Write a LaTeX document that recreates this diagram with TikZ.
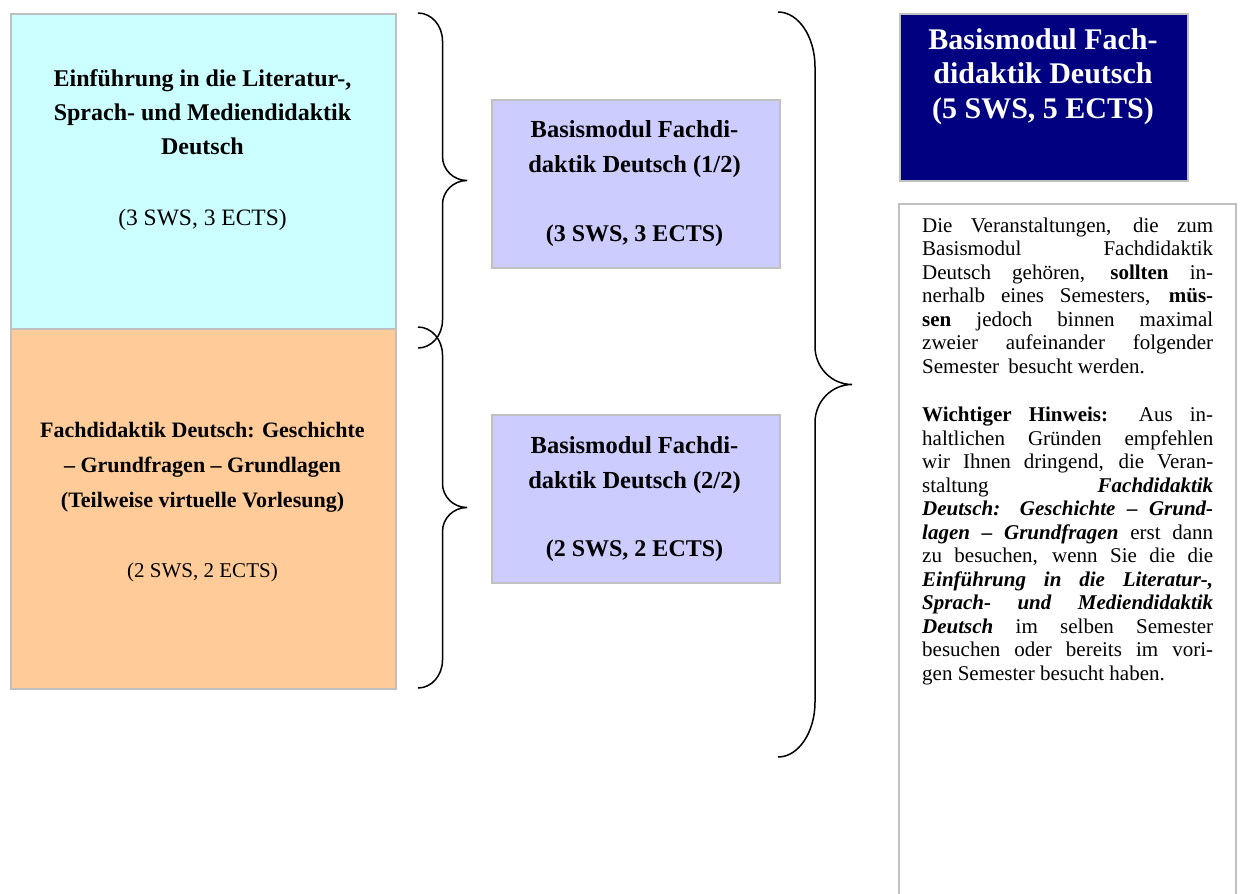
\documentclass[tikz,border=0pt]{standalone}
\usepackage{fontspec}
\setmainfont{Liberation Serif}
\definecolor{cyanfill}{HTML}{CCFFFF}
\definecolor{orangefill}{HTML}{FFCC99}
\definecolor{purplefill}{HTML}{CCCCFF}
\definecolor{navyfill}{HTML}{000080}
\definecolor{bordergray}{HTML}{C0C0C0}
\newcommand{\jl}[1]{\hbox to 291pt{\spaceskip=0.25em plus 1fil\relax #1}}
\newcommand{\lastln}[1]{\hbox to 291pt{#1\hfil}}
\newcommand{\mybrace}[6]{%
  \pgfmathsetmacro\bym{(#2+#3)/2}%
  \draw[bracestyle] (#1,#2) .. controls ({#1+0.552*#4},#2) and ({#1+#4},{#2+0.448*#5}) .. ({#1+#4},{#2+#5})
   -- ({#1+#4},{\bym-#6}) .. controls ({#1+#4},{\bym-0.448*#6}) and ({#1+1.448*#4},\bym) .. ({#1+2*#4},\bym)
   .. controls ({#1+1.448*#4},\bym) and ({#1+#4},{\bym+0.448*#6}) .. ({#1+#4},{\bym+#6})
   -- ({#1+#4},{#3-#5}) .. controls ({#1+#4},{#3-0.448*#5}) and ({#1+0.552*#4},#3) .. (#1,#3);%
}
\begin{document}
\begin{tikzpicture}[x=1pt,y=-1pt,
  box/.style={draw=bordergray, line width=2pt, inner sep=0pt, anchor=north west},
  bracestyle/.style={line width=1.5pt, black},
  frame/.style={draw=bordergray, line width=2pt},
  titletext/.style={anchor=base, align=center, inner sep=0pt},
  swstext/.style={anchor=base, inner sep=0pt}]
\useasboundingbox (0,0) rectangle (1242,894);

% boxes
\node[box, fill=cyanfill, minimum width=384.2pt, minimum height=315.5pt] (einf) at (10.3,12.5) {};
\node[box, fill=orangefill, minimum width=384.2pt, minimum height=360pt] (fach) at (10.3,328) {};
\node[box, fill=purplefill, minimum width=288.2pt, minimum height=168pt] (basis1) at (490.8,98.5) {};
\node[box, fill=purplefill, minimum width=288.2pt, minimum height=168.5pt] (basis2) at (490.8,413.5) {};
\node[box, fill=navyfill, minimum width=288pt, minimum height=167.3pt] (basis) at (899,12.7) {};
\draw[frame] (899,896) |- (1236,204) -- (1236,896);

% texts (base anchor = baseline of last line)
\node[titletext, font=\bfseries\fontsize{24}{34}\selectfont] (einft) at (202.5,154)
  {Einführung in die Literatur-,\\Sprach- und Mediendidaktik\\Deutsch};
\node[swstext, font=\fontsize{23.5}{26}\selectfont] (einfs) at (202.5,225) {(3 SWS, 3 ECTS)};

\node[titletext, font=\bfseries\fontsize{22}{35}\selectfont] (facht) at (202.5,507)
  {Fachdidaktik Deutsch: Geschichte\\– Grundfragen – Grundlagen\\(Teilweise virtuelle Vorlesung)};
\node[swstext, font=\fontsize{21}{26}\selectfont] (fachs) at (202.5,577) {(2 SWS, 2 ECTS)};

\node[titletext, font=\bfseries\fontsize{24.5}{35}\selectfont] (basis1t) at (634.5,172)
  {Basismodul Fachdi-\\daktik Deutsch (1/2)};
\node[swstext, font=\bfseries\fontsize{24}{26}\selectfont] (basis1s) at (634.5,241) {(3 SWS, 3 ECTS)};

\node[titletext, font=\bfseries\fontsize{24.5}{35}\selectfont] (basis2t) at (634.5,488)
  {Basismodul Fachdi-\\daktik Deutsch (2/2)};
\node[swstext, font=\bfseries\fontsize{24}{26}\selectfont] (basis2s) at (634.5,556) {(2 SWS, 2 ECTS)};

\node[titletext, text=white, font=\bfseries\fontsize{30}{34.5}\selectfont] (basist) at (1043,118)
  {Basismodul Fach-\\didaktik Deutsch\\(5 SWS, 5 ECTS)};

\node[anchor=base west, inner sep=0pt, font=\fontsize{21}{23.5}\selectfont] (hinweis) at (922,232) {\vtop{%
\baselineskip=23.5pt \lineskiplimit=-100pt \lineskip=0pt
\jl{Die Veranstaltungen, die zum}
\jl{Basismodul Fachdidaktik}
\jl{Deutsch gehören, \textbf{sollten} in-}
\jl{nerhalb eines Semesters, \textbf{müs-}}
\jl{\textbf{sen} jedoch binnen maximal}
\jl{zweier aufeinander folgender}
\lastln{Semester\hspace{4pt} besucht werden.}
\vskip 25pt
\jl{\textbf{Wichtiger Hinweis:} Aus in-}
\jl{haltlichen Gründen empfehlen}
\jl{wir Ihnen dringend, die Veran-}
\jl{staltung \textbf{\textit{Fachdidaktik}}}
\jl{\textbf{\textit{Deutsch: Geschichte – Grund-}}}
\jl{\textbf{\textit{lagen – Grundfragen}} erst dann}
\jl{zu besuchen, wenn Sie die die}
\jl{\textbf{\textit{Einführung in die Literatur-,}}}
\jl{\textbf{\textit{Sprach- und Mediendidaktik}}}
\jl{\textbf{\textit{Deutsch}} im selben Semester}
\jl{besuchen oder bereits im vori-}
\lastln{gen Semester besucht haben.}}};

% braces
\mybrace{418}{13}{348}{24.5}{28}{24}
\mybrace{418}{327}{688}{24.5}{28}{24}
\mybrace{778}{12}{757}{37}{55}{38}
\end{tikzpicture}
\end{document}
